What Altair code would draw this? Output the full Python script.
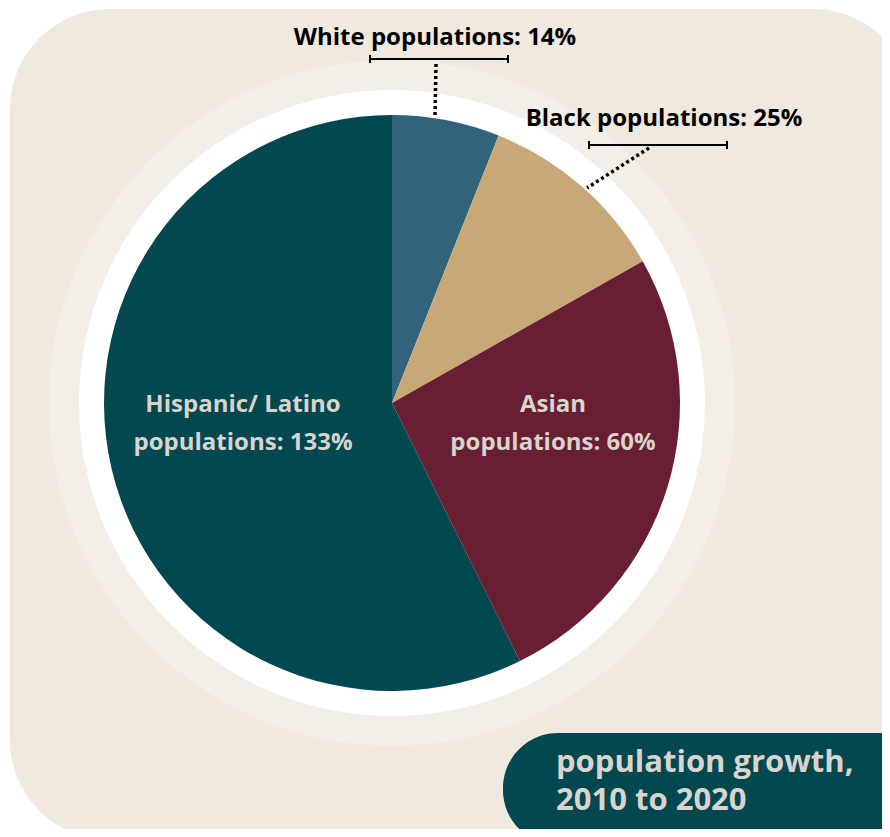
import altair as alt
import pandas as pd

# ---- data ----
groups = ["White", "Black", "Asian", "Hispanic/ Latino"]
growth = [14, 25, 60, 133]
colors = ["#33637B", "#C9A878", "#681E33", "#03474F"]
title_lines = ["population growth,", "2010 to 2020"]

df = pd.DataFrame({"group": groups, "growth": growth, "idx": list(range(len(groups)))})
one = pd.DataFrame({"k": [1]})

W, H = 874, 821
CX, CY = 384, 395
FULL = 6.2832

base_one = alt.Chart(one)

# background card
card = base_one.mark_rect(color="#F0E9DF", cornerRadius=100).encode(
    x=alt.value(2), x2=alt.value(905), y=alt.value(1), y2=alt.value(832)
)

# rings
ring_light = base_one.mark_arc(color="#F3EEE7", outerRadius=343).encode(
    theta=alt.value(0), theta2=alt.value(FULL), x=alt.value(CX), y=alt.value(CY)
)
ring_white = base_one.mark_arc(color="#FFFFFF", outerRadius=313).encode(
    theta=alt.value(0), theta2=alt.value(FULL), x=alt.value(CX), y=alt.value(CY)
)

# pie
pie = alt.Chart(df).mark_arc(outerRadius=288).encode(
    theta=alt.Theta("growth:Q", stack=True),
    order=alt.Order("idx:Q", sort="ascending"),
    color=alt.Color("group:N", scale=alt.Scale(domain=groups, range=colors), legend=None),
    x=alt.value(CX), y=alt.value(CY),
)

FONT = "Open Sans"

# outer labels
def outer_label(name, x, y):
    return alt.Chart(df).transform_filter(alt.datum.group == name).transform_calculate(
        t="datum.group + ' populations: ' + datum.growth + '%'"
    ).mark_text(
        font=FONT, fontWeight="bold", fontSize=24, color="#000000",
        align="center", baseline="alphabetic"
    ).encode(text="t:N", x=alt.value(x), y=alt.value(y))

def inner_label(name, x, y):
    return alt.Chart(df).transform_filter(alt.datum.group == name).transform_calculate(
        t="datum.group + '|populations: ' + datum.growth + '%'"
    ).mark_text(
        font=FONT, fontWeight="bold", fontSize=24, color="#D9D4CE",
        align="center", baseline="middle", lineBreak="|", lineHeight=38
    ).encode(text="t:N", x=alt.value(x), y=alt.value(y))

lab_white = outer_label("White", 427, 37)
lab_black = outer_label("Black", 656, 118)
lab_hisp = inner_label("Hispanic/ Latino", 235, 397)
lab_asian = inner_label("Asian", 545, 397)

# brackets and leader lines
def rule(x1, y1, x2, y2, dash=None, w=2):
    kw = dict(color="#000000", strokeWidth=w)
    if dash:
        kw["strokeDash"] = dash
    return base_one.mark_rule(**kw).encode(
        x=alt.value(x1), y=alt.value(y1), x2=alt.value(x2), y2=alt.value(y2)
    )

brackets = [
    rule(362, 51, 500, 51),
    rule(362, 47, 362, 55),
    rule(500, 47, 500, 55),
    rule(428, 56, 427, 108, dash=[3, 3], w=3.5),
    rule(581, 137, 719, 137),
    rule(581, 133, 581, 141),
    rule(719, 133, 719, 141),
    rule(641, 140, 579, 180, dash=[3, 3], w=3.5),
]

# bottom title box
box = base_one.mark_rect(color="#03474F", cornerRadius=55).encode(
    x=alt.value(495), x2=alt.value(1000), y=alt.value(725), y2=alt.value(837)
)
title_df = pd.DataFrame({"t": ["|".join(title_lines)]})
title = alt.Chart(title_df).mark_text(
    font=FONT, fontWeight="bold", fontSize=31, color="#D9D4CE",
    align="left", baseline="alphabetic", lineBreak="|", lineHeight=38
).encode(text="t:N", x=alt.value(548), y=alt.value(764))

chart = alt.layer(
    card, ring_light, ring_white, pie, lab_hisp, lab_asian,
    lab_white, lab_black, *brackets, box, title
).properties(
    width=W, height=H, autosize=alt.AutoSizeParams(type="none"), padding=0,
    background="#FFFFFF"
).configure_view(stroke=None)

chart.save("out.html", embed_options={"renderer": "svg", "actions": False})
